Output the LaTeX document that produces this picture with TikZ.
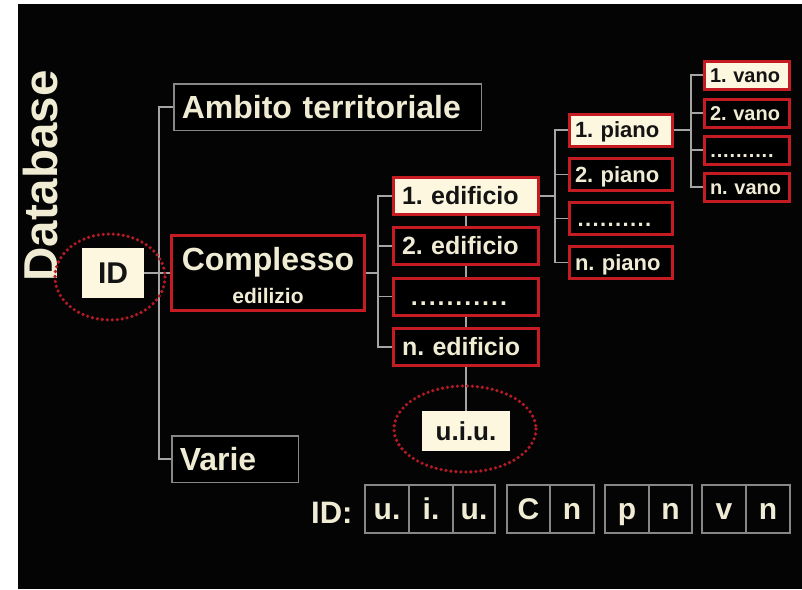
\documentclass[tikz,border=0pt]{standalone}
\usepackage{fontspec}
\setmainfont{Liberation Sans}
\frenchspacing
\definecolor{creamtxt}{RGB}{240,236,212}
\definecolor{creamfill}{RGB}{252,247,222}
\definecolor{darktxt}{RGB}{20,20,20}
\definecolor{boxred}{RGB}{196,28,34}
\definecolor{ringred}{RGB}{178,26,36}
\definecolor{boxgray}{RGB}{135,135,135}
\definecolor{linegray}{RGB}{165,165,165}
\definecolor{bgblack}{RGB}{4,4,4}
\pgfdeclarelayer{back}
\pgfdeclarelayer{lines}
\pgfsetlayers{back,lines,main}
\newcommand\mydots[2]{\leavevmode\hbox to #1{\leaders\hbox to #2{\hss.\hss}\hfill}}
\begin{document}
\begin{tikzpicture}[x=1pt,y=-1pt,
  fA/.style={font=\fontsize{32}{34}\selectfont\bfseries, text height=22.9pt, text depth=0pt},
  fE/.style={font=\fontsize{25}{27}\selectfont\bfseries, text height=17.9pt, text depth=0pt},
  fP/.style={font=\fontsize{22}{24}\selectfont\bfseries, text height=15.75pt, text depth=0pt},
  fV/.style={font=\fontsize{20}{22}\selectfont\bfseries, text height=14.3pt, text depth=0pt},
  fC/.style={font=\fontsize{30}{32}\selectfont\bfseries, text height=21.5pt, text depth=0pt},
  fU/.style={font=\fontsize{26}{28}\selectfont\bfseries, text height=18.6pt, text depth=0pt},
  redbox/.style={draw=boxred, line width=3pt, fill=black, text=creamtxt, inner ysep=0pt},
  creambox/.style={draw=boxred, line width=3pt, fill=creamfill, text=darktxt, inner ysep=0pt},
  graybox/.style={draw=boxgray, line width=1.5pt, fill=black, text=creamtxt, inner ysep=0pt},
  plainbox/.style={fill=creamfill, text=darktxt, inner ysep=0pt, inner xsep=0pt},
  cellbox/.style={draw=boxgray, line width=1.5pt, text=creamtxt, inner sep=0pt, minimum height=48pt, fC},
  edbox/.style={minimum width=145pt, minimum height=37pt, inner xsep=8.5pt, text width=128pt, align=left, fE},
  pbox/.style={minimum width=103pt, minimum height=32pt, inner xsep=5.5pt, text width=92pt, align=left, fP},
  vbox/.style={minimum width=85.5pt, minimum height=28pt, inner xsep=6pt, text width=73.5pt, align=left, fV},
  conn/.style={draw=linegray, line width=1.5pt},
  ring/.style={draw=ringred, line width=3.6pt, dash pattern=on 0pt off 5pt, line cap=round},
]
\useasboundingbox (0,0) rectangle (802,589);
\begin{pgfonlayer}{back}
\fill[white] (0,0) rectangle (802,589);
\fill[bgblack] (18,4) rectangle (802,589);
\end{pgfonlayer}

% title
\node[rotate=90, anchor=base, inner sep=0pt, text=creamtxt,
      font=\fontsize{47.5}{50}\selectfont\bfseries] (db) at (57,176) {Database};

% ID
\node[plainbox, minimum width=62pt, minimum height=50pt, fC] (idb) at (113,273) {ID};
\draw[ring] (110,277) ellipse [x radius=55, y radius=43];

% level 1
\node[graybox, minimum width=307.5pt, minimum height=46.5pt, inner xsep=8pt,
      text width=291.5pt, align=left, fA] (amb) at (327.5,107) {Ambito territoriale};
\node[redbox, minimum width=193pt, minimum height=75pt] (cpl) at (268,273) {};
\node[anchor=base, inner sep=0pt, text=creamtxt, font=\fontsize{32}{34}\selectfont\bfseries] (cpl1) at (268,270) {Complesso};
\node[anchor=base, inner sep=0pt, text=creamtxt, font=\fontsize{21}{23}\selectfont\bfseries] (cpl2) at (268,303) {edilizio};
\node[graybox, minimum width=126.5pt, minimum height=46.5pt, inner xsep=8pt,
      text width=110.5pt, align=left, fA] (var) at (235,459) {Varie};

% edifici
\node[creambox, edbox] (ed1) at (466,196) {1. edificio};
\node[redbox, edbox] (ed2) at (466,246) {2. edificio};
\node[redbox, edbox] (ed3) at (466,296.5) {\hspace*{8pt}\mydots{98pt}{8.9pt}};
\node[redbox, edbox] (edn) at (466,347) {n. edificio};

% u.i.u.
\node[plainbox, minimum width=88pt, minimum height=40pt, fU] (uiu) at (466,431) {u.i.u.};
\draw[ring] (465,429) ellipse [x radius=71, y radius=43];

% piani
\node[creambox, pbox] (p1) at (621,130) {1. piano};
\node[redbox, pbox] (p2) at (621,174.5) {2. piano};
\node[redbox, pbox] (p3) at (621,218.5) {\hspace*{2pt}\mydots{82pt}{7.5pt}};
\node[redbox, pbox] (pn) at (621,262.5) {n. piano};

% vani
\node[creambox, vbox] (v1) at (746.75,75) {1. vano};
\node[redbox, vbox] (v2) at (746.75,113) {2. vano};
\node[redbox, vbox] (v3) at (746.75,150) {\hspace*{0pt}\mydots{64pt}{6.4pt}};
\node[redbox, vbox] (vn) at (746.75,187) {n. vano};

% ID code row
\node[anchor=base west, inner sep=0pt, text=creamtxt, font=\fontsize{31}{33}\selectfont\bfseries] (idl) at (311,523) {ID:};
\node[cellbox, minimum width=44pt] (c1) at (387,509) {u.};
\node[cellbox, minimum width=44pt] (c2) at (431,509) {i.};
\node[cellbox, minimum width=42pt] (c3) at (474,509) {u.};
\node[cellbox, minimum width=43pt] (c4) at (528.5,509) {C};
\node[cellbox, minimum width=44pt] (c5) at (572,509) {n};
\node[cellbox, minimum width=44pt] (c6) at (627,509) {p};
\node[cellbox, minimum width=43pt] (c7) at (670.5,509) {n};
\node[cellbox, minimum width=44pt] (c8) at (724,509) {v};
\node[cellbox, minimum width=44pt] (c9) at (768,509) {n};

% connectors
\coordinate (trunk) at (159,273);
\coordinate (edbr) at (378,273);
\coordinate (pbr) at (555,196);
\coordinate (vbr) at (691,130);
\begin{pgfonlayer}{lines}
\draw[conn] (amb.west) -| (trunk) |- (var.west);
\draw[conn] (idb.east) -- (cpl.west);
\draw[conn] (cpl.east) -- (edbr);
\draw[conn] (ed1.west) -| (edbr) |- (edn.west);
\draw[conn] (ed2.west) -- (ed2.west -| edbr);
\draw[conn] (ed3.west) -- (ed3.west -| edbr);
\draw[conn] (ed1.south) -- (ed2.north);
\draw[conn] (ed2.south) -- (ed3.north);
\draw[conn] (ed3.south) -- (edn.north);
\draw[conn] (edn.south) -- (uiu.north);
\draw[conn] (ed1.east) -- (pbr);
\draw[conn] (p1.west) -| (pbr) |- (pn.west);
\draw[conn] (p2.west) -- (p2.west -| pbr);
\draw[conn] (p3.west) -- (p3.west -| pbr);
\draw[conn] (p1.east) -- (vbr);
\draw[conn] (v1.west) -| (vbr) |- (vn.west);
\draw[conn] (v2.west) -- (v2.west -| vbr);
\draw[conn] (v3.west) -- (v3.west -| vbr);
\end{pgfonlayer}
\end{tikzpicture}
\end{document}
